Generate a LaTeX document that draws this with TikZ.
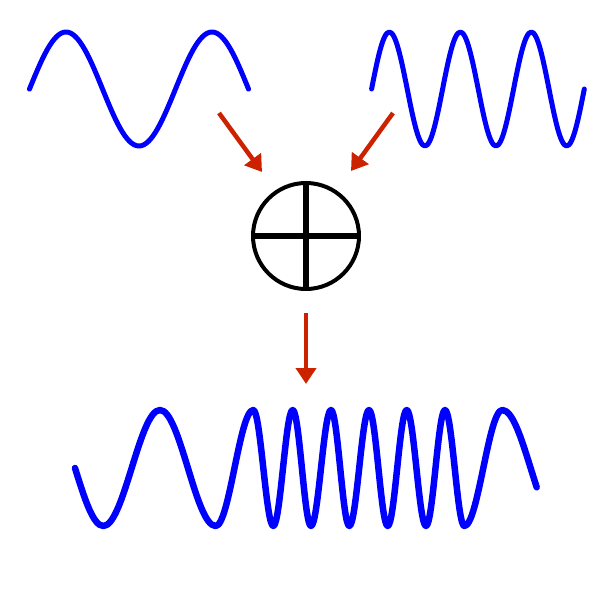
\documentclass[tikz,border=0pt]{standalone}
\usetikzlibrary{arrows.meta}
\definecolor{wave}{RGB}{0,0,255}
\definecolor{arr}{RGB}{204,34,0}
\tikzset{
  wavepath/.style={draw=wave, line width=5pt, line cap=round, line join=round},
  bigwave/.style={draw=wave, line width=6.5pt, line cap=round, line join=round},
  flow/.style={draw=arr, line width=4.5pt, -{Triangle[length=16pt,width=20pt]}},
  summer/.style={circle, draw=black, line width=4pt, minimum size=106pt, inner sep=0pt},
  crossbar/.style={draw=black, line width=6pt}
}
\begin{document}
\begin{tikzpicture}[x=1pt,y=-1pt]
\useasboundingbox (0,0) rectangle (610,591);
% top-left wave
\draw[wavepath] (29.5,89) sin (66,32) cos (102.5,89) sin (139,146) cos (175.5,89) sin (212,32) cos (248.5,89);
% top-right wave
\draw[wavepath] (371.6,89) sin (389.3,32) cos (407.2,89) sin (425,146) cos (442.6,89) sin (460.3,32) cos (478.2,89) sin (496,146) cos (513.6,89) sin (531.3,32) cos (549,89) sin (566.7,146) cos (584.3,89);
% summing junction
\node[summer] (sum) at (306,236) {};
\draw[crossbar] (sum.north) -- (sum.south);
\draw[crossbar] (sum.west) -- (sum.east);
% arrow endpoints
\coordinate (l0) at (219,113);
\coordinate (l1) at (262,172);
\coordinate (r0) at (393,113);
\coordinate (r1) at (351,171);
\coordinate (d0) at (306,313);
\coordinate (d1) at (306,384);
\draw[flow] (l0) -- (l1);
\draw[flow] (r0) -- (r1);
\draw[flow] (d0) -- (d1);
% bottom wave
\draw[bigwave] (75,468) sin (103.3,526) cos (131.7,468) sin (160,410) cos (187.9,468) sin (215.7,526)
  cos (234.5,468) sin (253.3,410) cos (263.3,468) sin (273.3,526) cos (283,468) sin (292.7,410)
  cos (301.9,468) sin (311,526) cos (321,468) sin (331,410) cos (340.2,468) sin (349.3,526)
  cos (359.2,468) sin (369,410) cos (378.4,468) sin (387.7,526) cos (397.2,468) sin (406.7,410)
  cos (416.4,468) sin (426,526) cos (435.5,468) sin (445,410) cos (454.7,468) sin (464.3,526)
  cos (483.3,468) sin (502.3,410) cos (530.6,468) -- (536.7,487.3);
\end{tikzpicture}
\end{document}
